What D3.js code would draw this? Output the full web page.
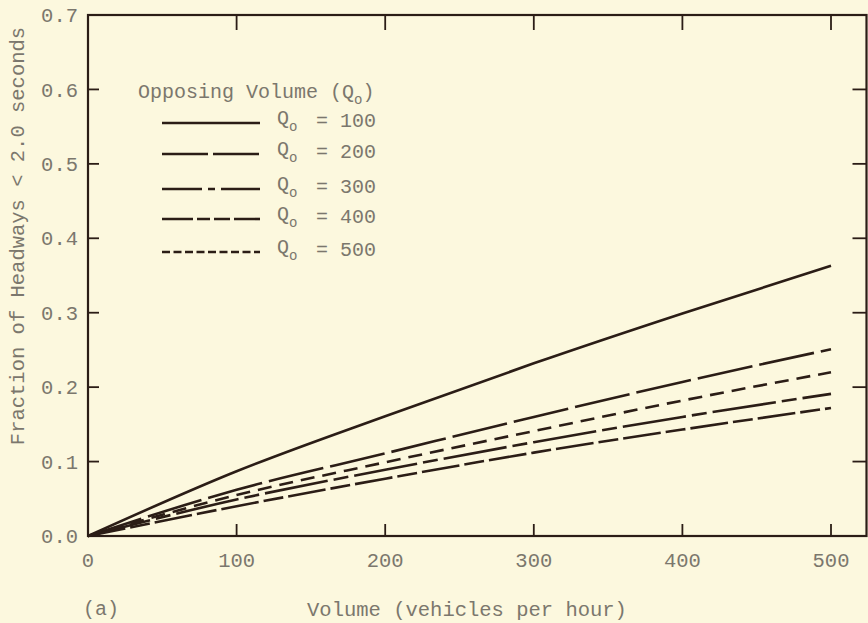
<!DOCTYPE html>
<html>
<head>
<meta charset="utf-8">
<script src="https://cdn.jsdelivr.net/npm/d3@7"></script>
<style>
  html, body { margin: 0; padding: 0; background: #fcf8de; }
  svg { display: block; }
  text { font-family: "Liberation Mono", "DejaVu Sans Mono", monospace; fill: #7b776d; }
</style>
</head>
<body>
<svg id="chart" width="868" height="623"></svg>
<script>
// Volume (vehicles per hour) at which each curve is read
const volumes = [0, 100, 200, 300, 400, 500];

// Fraction of headways < 2.0 s for each opposing volume Qo
const q100 = [0, 0.087, 0.161, 0.232, 0.299, 0.363];
const q200 = [0, 0.062, 0.111, 0.160, 0.207, 0.251];
const q300 = [0, 0.049, 0.089, 0.126, 0.160, 0.191];
const q400 = [0, 0.040, 0.077, 0.112, 0.143, 0.172];
const q500 = [0, 0.055, 0.099, 0.141, 0.182, 0.220];

const seriesNames = ["100", "200", "300", "400", "500"];
const seriesValues = [q100, q200, q300, q400, q500];

const xTicks = [0, 100, 200, 300, 400, 500];
const yTicks = [0.0, 0.1, 0.2, 0.3, 0.4, 0.5, 0.6, 0.7];

// line patterns for the plotted curves and for the legend samples
const plotDash = { "100": null, "200": "56,7", "300": "64,6,15,6", "400": "38,5,20,5", "500": "14,8" };
const legendDash = { "100": null, "200": "46,5", "300": "40,6,7,6", "400": "31,4,13,4,16,4", "500": "8,3.5" };

const ink = "#2b1d16";
const svg = d3.select("#chart");

const plotLeft = 88, plotRight = 866.5, plotTop = 15, plotBottom = 536;
const x = d3.scaleLinear().domain([0, 500]).range([plotLeft, 831]);
const y = d3.scaleLinear().domain([0, 0.7]).range([plotBottom, plotTop]);

// frame
svg.append("rect")
  .attr("x", plotLeft).attr("y", plotTop)
  .attr("width", plotRight - plotLeft).attr("height", plotBottom - plotTop)
  .attr("fill", "none").attr("stroke", ink).attr("stroke-width", 2.2);

// ticks, drawn inward on all four sides
const tickG = svg.append("g").attr("stroke", ink).attr("stroke-width", 1.8);
xTicks.filter(d => d > 0).forEach(d => {
  tickG.append("line").attr("x1", x(d)).attr("x2", x(d)).attr("y1", plotBottom).attr("y2", plotBottom - 12);
  tickG.append("line").attr("x1", x(d)).attr("x2", x(d)).attr("y1", plotTop).attr("y2", plotTop + 15);
});
yTicks.filter(d => d > 0 && d < 0.7).forEach(d => {
  tickG.append("line").attr("x1", plotLeft).attr("x2", plotLeft + 11).attr("y1", y(d)).attr("y2", y(d));
  tickG.append("line").attr("x1", plotRight).attr("x2", plotRight - 14).attr("y1", y(d)).attr("y2", y(d));
});

// tick labels
svg.append("g").selectAll("text").data(yTicks).join("text")
  .attr("x", 78).attr("y", d => y(d)).attr("dy", "0.35em")
  .attr("text-anchor", "end").attr("font-size", 20.5)
  .text(d => d.toFixed(1));

svg.append("g").selectAll("text").data(xTicks).join("text")
  .attr("x", d => x(d)).attr("y", 567)
  .attr("text-anchor", "middle").attr("font-size", 20.5)
  .text(d => d);

// axis titles
svg.append("text")
  .attr("transform", "translate(24,236) rotate(-90)")
  .attr("text-anchor", "middle").attr("font-size", 20.5)
  .text("Fraction of Headways < 2.0 seconds");

svg.append("text")
  .attr("x", 467).attr("y", 616)
  .attr("text-anchor", "middle").attr("font-size", 20.5)
  .text("Volume (vehicles per hour)");

svg.append("text")
  .attr("x", 83).attr("y", 615).attr("font-size", 20)
  .text("(a)");

// curves
const line = d3.line()
  .x((d, i) => x(volumes[i]))
  .y(d => y(d))
  .curve(d3.curveMonotoneX);

seriesValues.forEach((vals, k) => {
  svg.append("path")
    .attr("d", line(vals))
    .attr("fill", "none")
    .attr("stroke", ink)
    .attr("stroke-width", 2.6)
    .attr("stroke-dasharray", plotDash[seriesNames[k]]);
});

// legend
const legTitle = svg.append("text").attr("x", 138).attr("y", 98).attr("font-size", 20);
legTitle.append("tspan").text("Opposing Volume (Q");
legTitle.append("tspan").attr("font-size", 14).attr("dy", 6).text("o");
legTitle.append("tspan").attr("dy", -6).text(")");

const rowY = [123, 154, 189, 219, 252];
seriesNames.forEach((name, k) => {
  const ly = rowY[k];
  svg.append("line")
    .attr("x1", 162).attr("x2", 260).attr("y1", ly).attr("y2", ly)
    .attr("stroke", ink).attr("stroke-width", 2.6)
    .attr("stroke-dasharray", legendDash[name]);
  svg.append("text").attr("x", 277).attr("y", ly + 1).attr("font-size", 20).text("Q");
  svg.append("text").attr("x", 289).attr("y", ly + 8).attr("font-size", 14).text("o");
  svg.append("text").attr("x", 316).attr("y", ly + 4).attr("font-size", 20).text("= " + name);
});
</script>
</body>
</html>
